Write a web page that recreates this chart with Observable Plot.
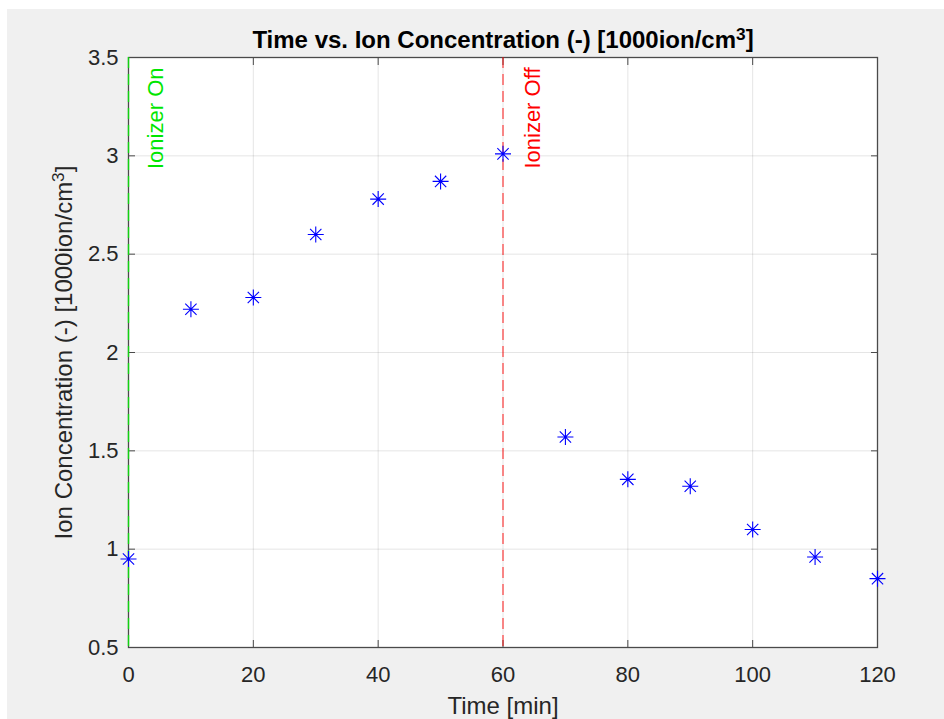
<!DOCTYPE html>
<html><head><meta charset="utf-8">
<script src="https://cdn.jsdelivr.net/npm/d3@7"></script>
<script src="https://cdn.jsdelivr.net/npm/@observablehq/plot@0.6"></script>
<style>
html,body{margin:0;padding:0;background:#fff;}
#chart{position:absolute;left:7px;top:9px;width:937px;height:710px;background:#f0f0f0;}
</style></head><body><div id="chart"></div>
<script>
// ---- data ----
const times = [0, 10, 20, 30, 40, 50, 60, 70, 80, 90, 100, 110, 120];
const concentration = [0.95, 2.22, 2.28, 2.60, 2.78, 2.87, 3.01, 1.57, 1.355, 1.32, 1.10, 0.96, 0.85];
const xTicks = [0, 20, 40, 60, 80, 100, 120];
const yTicks = [0.5, 1, 1.5, 2, 2.5, 3, 3.5];
const yTickLabels = ["0.5", "1", "1.5", "2", "2.5", "3", "3.5"];
const eventTimes = [0, 60];
const eventLabels = ["Ionizer On", "Ionizer Off"];
const titleText = "Time vs. Ion Concentration (-) [1000ion/cm³]";
const xLabel = "Time [min]";
const yLabel = "Ion Concentration (-) [1000ion/cm³]";

const data = times.map((t, i) => ({t, c: concentration[i]}));
const yFmt = d => yTickLabels[yTicks.indexOf(d)];

// MATLAB-style asterisk (+ and x)
const star = {
  draw(ctx, size) {
    const r = Math.sqrt(size / Math.PI), d = r * Math.SQRT1_2;
    ctx.moveTo(-r, 0); ctx.lineTo(r, 0);
    ctx.moveTo(0, -r); ctx.lineTo(0, r);
    ctx.moveTo(-d, -d); ctx.lineTo(d, d);
    ctx.moveTo(-d, d); ctx.lineTo(d, -d);
  }
};

const font = "'Liberation Sans', Arial, Helvetica, sans-serif";

const chart = Plot.plot({
  width: 937, height: 710,
  marginLeft: 121, marginRight: 67, marginTop: 48, marginBottom: 72,
  style: {background: "#f0f0f0", color: "#262626", fontFamily: font, fontSize: "22px"},
  x: {domain: [0, 120]},
  y: {domain: [0.5, 3.5]},
  marks: [
    Plot.frame({fill: "white", stroke: null}),
    Plot.gridX(xTicks, {stroke: "#262626", strokeOpacity: 0.12}),
    Plot.gridY(yTicks, {stroke: "#262626", strokeOpacity: 0.12}),
    Plot.axisX(xTicks, {anchor: "bottom", tickSize: 0, tickPadding: 19, label: null, fontSize: 22, fill: "#262626"}),
    Plot.axisY(yTicks, {anchor: "left", tickSize: 0, tickPadding: 10, label: null, fontSize: 22, fill: "#262626", tickFormat: yFmt}),
    Plot.axisX(xTicks, {anchor: "bottom", tickSize: -7, tickFormat: () => "", label: null, stroke: "#4a4a4a"}),
    Plot.axisX(xTicks, {anchor: "top", tickSize: -7, tickFormat: () => "", label: null, stroke: "#4a4a4a"}),
    Plot.axisY(yTicks, {anchor: "left", tickSize: -7, tickFormat: () => "", label: null, stroke: "#4a4a4a"}),
    Plot.axisY(yTicks, {anchor: "right", tickSize: -7, tickFormat: () => "", label: null, stroke: "#4a4a4a"}),
    Plot.frame({stroke: "#4a4a4a", strokeWidth: 1.3}),
    Plot.ruleX([eventTimes[0]], {stroke: "#00ff00", strokeOpacity: 0.75, strokeWidth: 1.5, strokeDasharray: "11,6"}),
    Plot.ruleX([eventTimes[1]], {stroke: "#ff0000", strokeOpacity: 0.6, strokeWidth: 1.5, strokeDasharray: "11,6"}),
    Plot.text([eventLabels[0]], {x: () => eventTimes[0], frameAnchor: "top", text: d => d, rotate: -90, textAnchor: "end", dx: 19, dy: 10, fontSize: 22, fill: "#00e600"}),
    Plot.text([eventLabels[1]], {x: () => eventTimes[1], frameAnchor: "top", text: d => d, rotate: -90, textAnchor: "end", dx: 21, dy: 10, fontSize: 22, fill: "#ff0000"}),
    Plot.dot(data, {x: "t", y: "c", symbol: star, r: 8, stroke: "#0000ff", fill: "none", strokeWidth: 1.1}),
    Plot.text([titleText], {frameAnchor: "top", text: d => d, dy: -10, lineAnchor: "bottom", fontWeight: "bold", fontSize: 24, fill: "#000"}),
    Plot.text([xLabel], {frameAnchor: "bottom", text: d => d, dy: 66, lineAnchor: "bottom", fontSize: 24, fill: "#262626"}),
    Plot.text([yLabel], {frameAnchor: "left", text: d => d, rotate: -90, textAnchor: "middle", lineAnchor: "middle", dx: -64, fontSize: 24, fill: "#262626"})
  ]
});

// render "³" as a TeX-like superscript (larger, raised), as MATLAB does
d3.select(chart).selectAll("text").each(function () {
  const el = d3.select(this);
  const s = this.textContent;
  if (!s.includes("³")) return;
  const parts = s.split("³");
  el.text(null);
  parts.forEach((p, i) => {
    if (i > 0) {
      el.append("tspan").attr("dy", "-0.45em").attr("font-size", "0.72em").text("3");
      el.append("tspan").attr("dy", "0.32em").text(p);
    } else {
      el.append("tspan").text(p);
    }
  });
});

document.getElementById("chart").appendChild(chart);
</script></body></html>
